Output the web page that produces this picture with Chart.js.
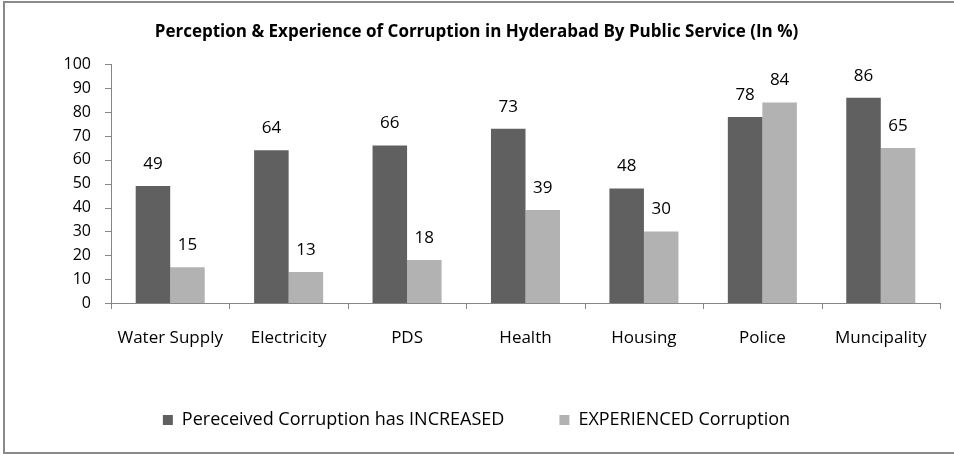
<!DOCTYPE html>
<html>
<head>
<meta charset="utf-8">
<script src="https://cdn.jsdelivr.net/npm/chart.js@4/dist/chart.umd.min.js"></script>
<style>
  html, body { margin: 0; padding: 0; background: #fff; }
  #wrap { width: 954px; height: 454px; }
</style>
</head>
<body>
<div id="wrap"><canvas id="chart" width="954" height="454"></canvas></div>
<script>
const categories = ['Water Supply', 'Electricity', 'PDS', 'Health', 'Housing', 'Police', 'Muncipality'];
const perceived = [49, 64, 66, 73, 48, 78, 86];
const experienced = [15, 13, 18, 39, 30, 84, 65];
const seriesNames = ['Pereceived Corruption has INCREASED', 'EXPERIENCED Corruption'];
const titleText = 'Perception & Experience of Corruption in Hyderabad By Public Service (In %)';

const FONT = '"Open Sans", sans-serif';

// frame around the whole chart, like the spreadsheet chart border
const framePlugin = {
    id: 'frame',
    beforeDraw(chart) {
        const ctx = chart.ctx;
        ctx.save();
        ctx.fillStyle = '#fff';
        ctx.fillRect(0, 0, chart.width, chart.height);
        ctx.strokeStyle = '#8a8a8a';
        ctx.lineWidth = 2;
        ctx.strokeRect(4, 2, chart.width + 10, chart.height - 3);
        ctx.restore();
    }
};

// value labels above each bar
const valueLabels = {
    id: 'valueLabels',
    afterDatasetsDraw(chart) {
        const ctx = chart.ctx;
        ctx.save();
        ctx.font = '17px ' + FONT;
        ctx.fillStyle = '#000';
        ctx.textAlign = 'center';
        ctx.textBaseline = 'middle';
        chart.data.datasets.forEach((ds, i) => {
            chart.getDatasetMeta(i).data.forEach((bar, j) => {
                ctx.fillText(ds.data[j], bar.x, bar.y - 22);
            });
        });
        ctx.restore();
    }
};

new Chart(document.getElementById('chart').getContext('2d'), {
    type: 'bar',
    data: {
        labels: categories,
        datasets: [
            { label: seriesNames[0], data: perceived, backgroundColor: '#606060' },
            { label: seriesNames[1], data: experienced, backgroundColor: '#b2b2b2' }
        ]
    },
    options: {
        responsive: false,
        animation: false,
        devicePixelRatio: 1,
        layout: { padding: { left: 13, right: 14, top: 0, bottom: 15 } },
        datasets: { bar: { barPercentage: 1, categoryPercentage: 0.583 } },
        scales: {
            x: {
                grid: { display: false, drawTicks: false },
                border: { color: '#868686', width: 1 },
                ticks: { color: '#000', font: { family: FONT, size: 17 }, padding: 25, maxRotation: 0 },
                afterFit(scale) { scale.height = 53; }
            },
            y: {
                min: 0,
                max: 100,
                grid: { display: false, drawTicks: false },
                border: { color: '#868686', width: 1 },
                ticks: { stepSize: 10, autoSkip: false, color: '#000', font: { family: FONT, size: 16 }, padding: 20 },
                afterFit(scale) { scale.width = 98; }
            }
        },
        plugins: {
            title: {
                display: true,
                text: titleText,
                color: '#000',
                font: { family: FONT, size: 17, weight: 'bold' },
                padding: { top: 22, bottom: 22 }
            },
            legend: {
                position: 'bottom',
                labels: {
                    color: '#000',
                    font: { family: FONT, size: 18 },
                    boxWidth: 10,
                    boxHeight: 10,
                    padding: 55
                }
            },
            tooltip: { enabled: false }
        }
    },
    plugins: [framePlugin, valueLabels, {
        // outside tick marks: left of y axis and between categories below x axis
        id: 'tickMarks',
        afterDraw(chart) {
            const ctx = chart.ctx;
            const x = chart.scales.x, y = chart.scales.y;
            ctx.save();
            ctx.strokeStyle = '#868686';
            ctx.lineWidth = 1;
            ctx.beginPath();
            y.ticks.forEach((t, i) => {
                const py = Math.round(y.getPixelForTick(i)) + 0.5;
                ctx.moveTo(x.left - 6, py);
                ctx.lineTo(x.left, py);
            });
            const step = (x.right - x.left) / categories.length;
            for (let i = 0; i <= categories.length; i++) {
                const px = Math.round(x.left + i * step) + 0.5;
                ctx.moveTo(px, y.bottom);
                ctx.lineTo(px, y.bottom + 6);
            }
            ctx.stroke();
            ctx.restore();
        }
    }]
});
</script>
</body>
</html>
